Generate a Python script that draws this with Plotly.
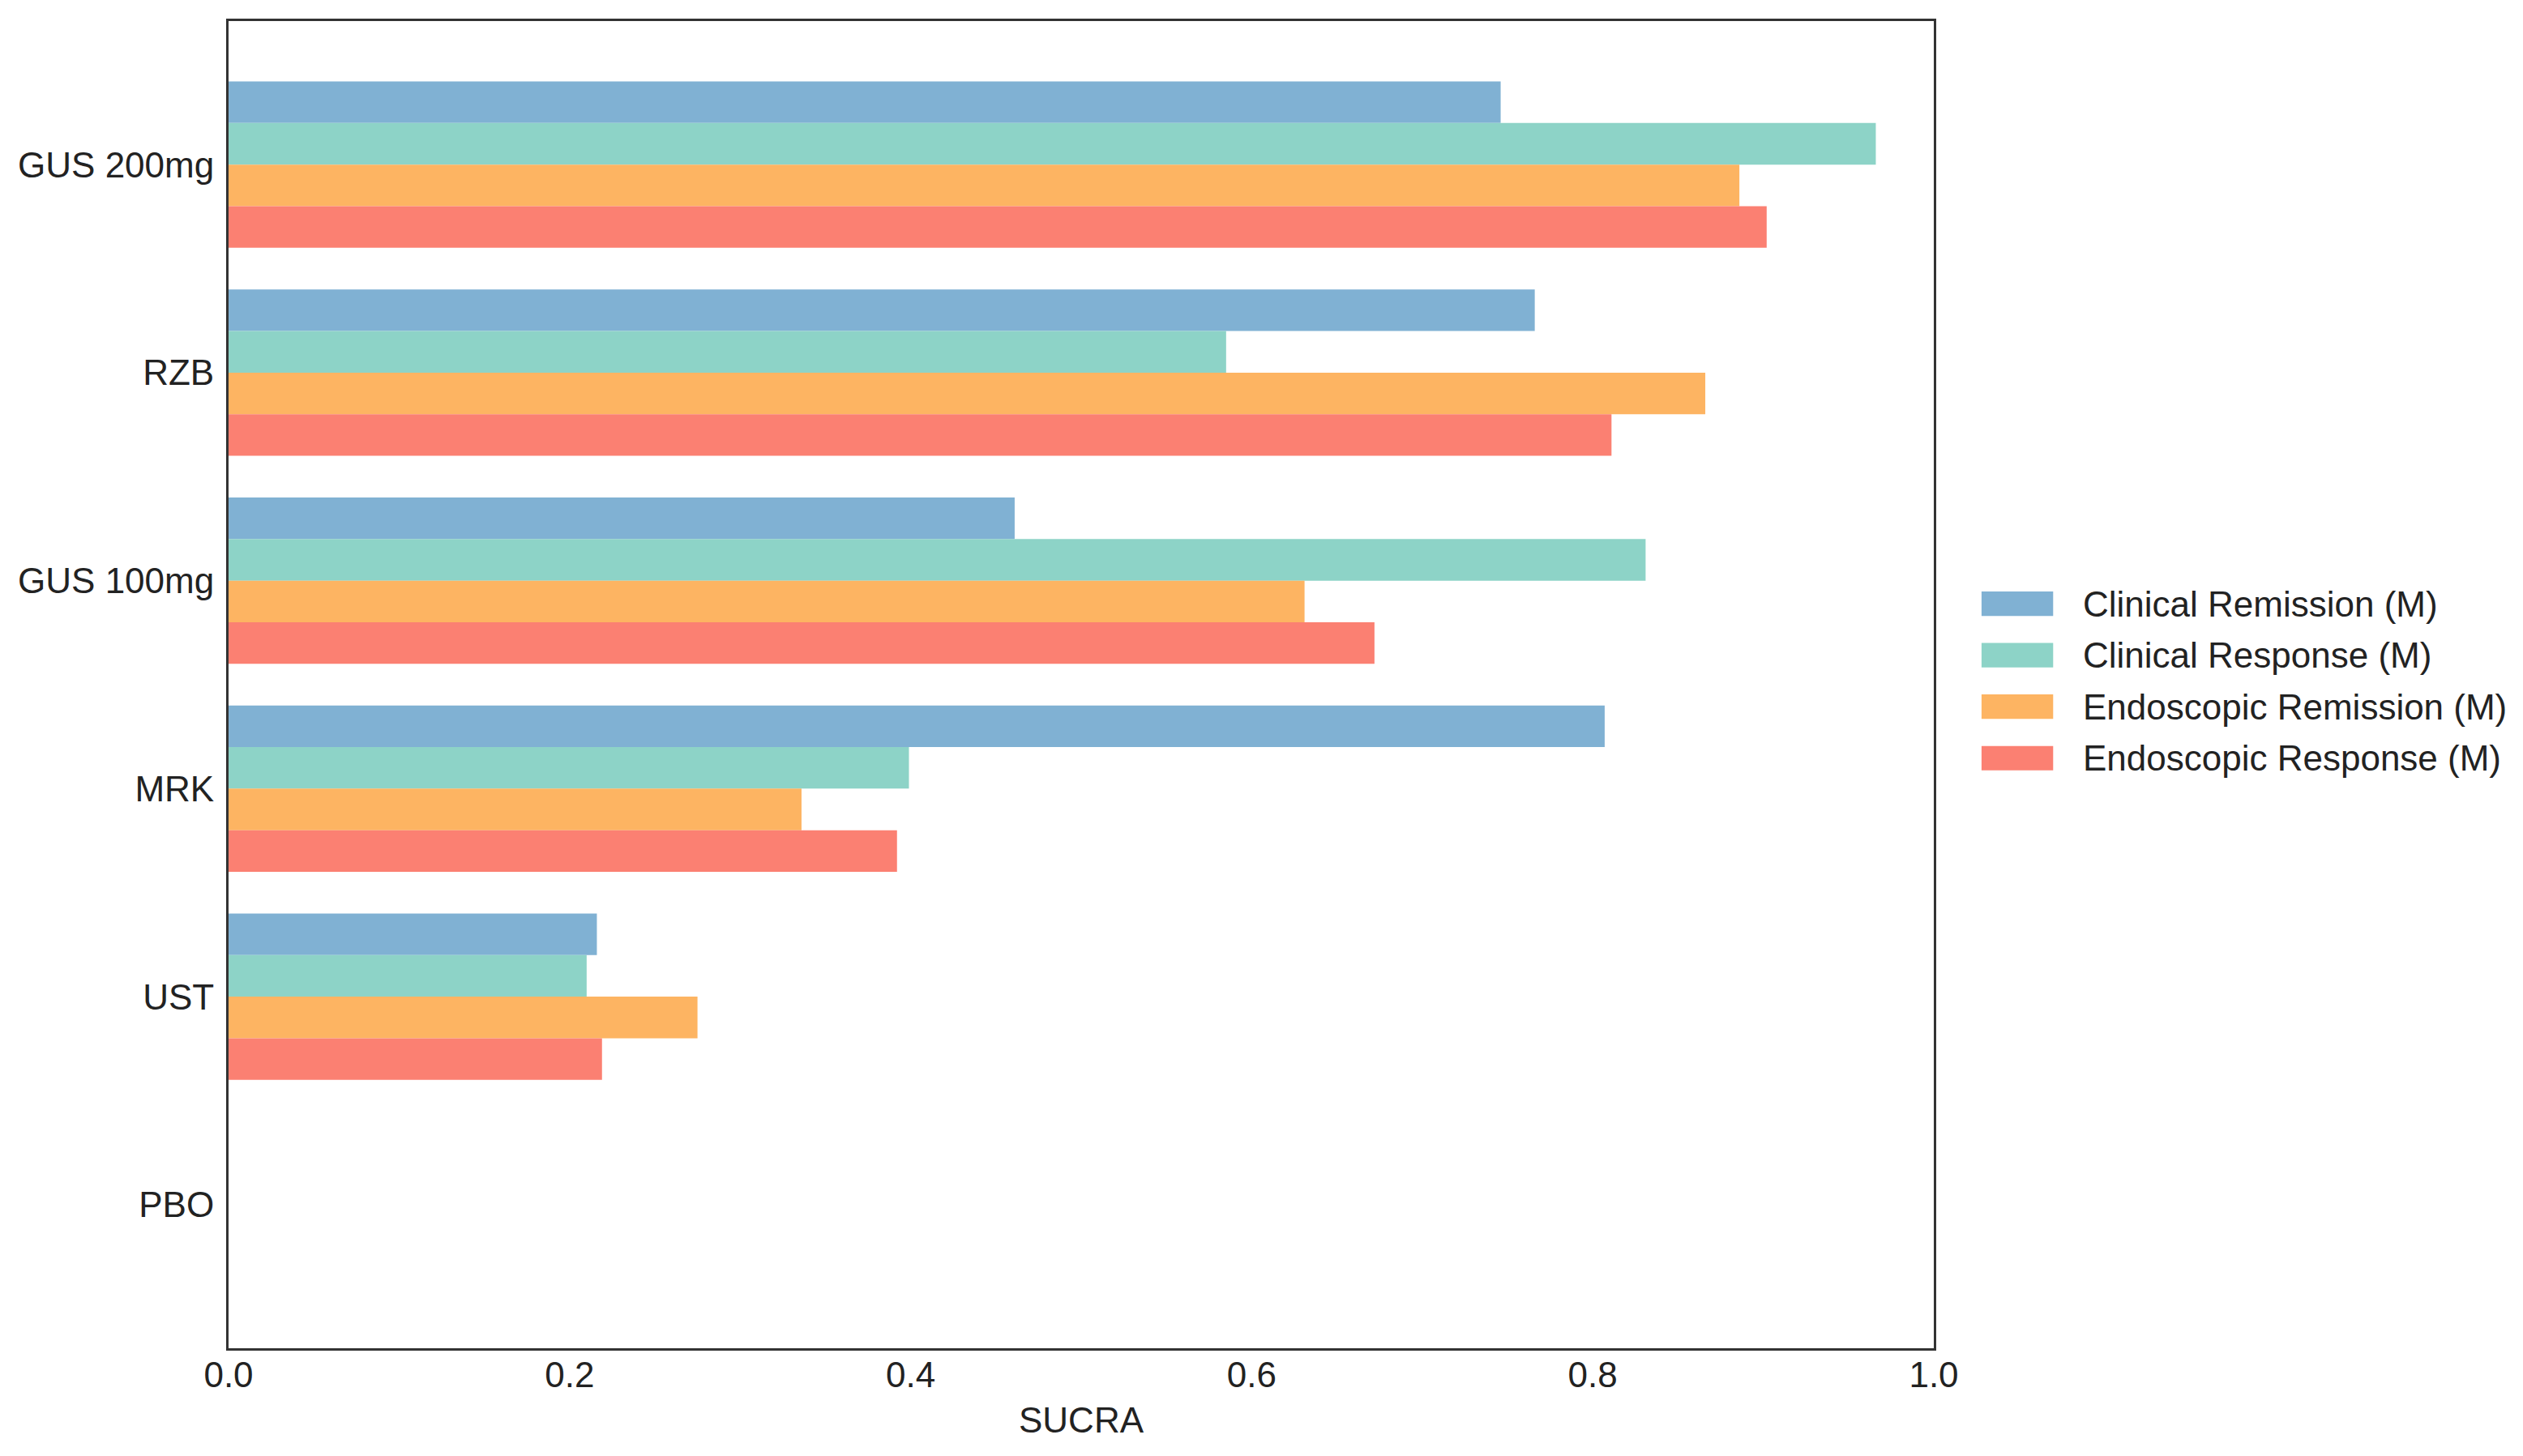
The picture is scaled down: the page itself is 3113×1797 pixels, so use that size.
import plotly.graph_objects as go

# treatments, top to bottom
treatments = ["GUS 200mg", "RZB", "GUS 100mg", "MRK", "UST", "PBO"]

# SUCRA values
clinical_remission = [0.746, 0.766, 0.461, 0.807, 0.216, 0.0]
clinical_response = [0.966, 0.585, 0.831, 0.399, 0.210, 0.0]
endoscopic_remission = [0.886, 0.866, 0.631, 0.336, 0.275, 0.0]
endoscopic_response = [0.902, 0.811, 0.672, 0.392, 0.219, 0.0]

series_names = [
    "Clinical Remission (M)",
    "Clinical Response (M)",
    "Endoscopic Remission (M)",
    "Endoscopic Response (M)",
]
series_values = [clinical_remission, clinical_response,
                 endoscopic_remission, endoscopic_response]
colors = ["#80B1D3", "#8DD3C7", "#FDB462", "#FB8072"]

x_ticks = [0.0, 0.2, 0.4, 0.6, 0.8, 1.0]

FONT = "Liberation Sans, Arial, sans-serif"
TXT = "#222222"

fig = go.Figure()
for name, vals, col in zip(series_names, series_values, colors):
    fig.add_trace(go.Bar(
        name=name,
        x=vals,
        y=treatments,
        orientation="h",
        marker=dict(color=col, line=dict(width=0)),
        showlegend=False,
    ))

# legend drawn by hand so the swatches can be wide like the original
leg_y0 = 0.561
leg_step = 0.0388
for i, (name, col) in enumerate(zip(series_names, colors)):
    yc = leg_y0 - i * leg_step
    fig.add_shape(type="rect", xref="paper", yref="paper",
                  x0=1.028, x1=1.070, y0=yc - 0.0092, y1=yc + 0.0092,
                  fillcolor=col, line=dict(width=0))
    fig.add_annotation(x=1.0865, y=yc, xref="paper", yref="paper",
                       text=name, showarrow=False, xanchor="left",
                       yanchor="middle",
                       font=dict(family=FONT, size=44, color=TXT))

# margins are 8px smaller on top/left to undo the page's body margin
fig.update_layout(
    width=3113,
    height=1797,
    margin=dict(l=274, r=735, t=18, b=141),
    paper_bgcolor="white",
    plot_bgcolor="white",
    barmode="group",
    bargap=0.2,
    bargroupgap=0,
    font=dict(family=FONT, size=44, color=TXT),
)
fig.update_xaxes(
    range=[0, 1],
    tickvals=x_ticks,
    ticktext=[f"{v:.1f}" for v in x_ticks],
    showgrid=False,
    zeroline=False,
    showline=True,
    linecolor="#333333",
    linewidth=3,
    mirror=True,
    ticks="",
    ticklabelstandoff=-8,
    title=dict(text="SUCRA", font=dict(size=44), standoff=18),
)
fig.update_yaxes(
    categoryorder="array",
    categoryarray=treatments,
    range=[5.69, -0.69],
    showgrid=False,
    zeroline=False,
    showline=True,
    linecolor="#333333",
    linewidth=3,
    mirror=True,
    ticks="",
    ticklabelstandoff=6,
)

fig.write_html("out.html")
